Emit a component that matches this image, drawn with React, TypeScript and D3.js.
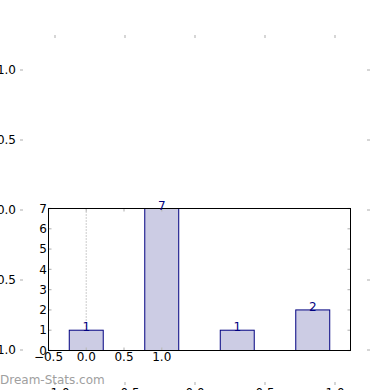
import { useEffect, useRef } from "react";
import * as d3 from "d3";

const categories = [0, 1, 2, 3];
const counts = [1, 7, 1, 2];
const xTickValues = [-0.5, 0, 0.5, 1.0];
const yTickValues = [0, 1, 2, 3, 4, 5, 6, 7];
const bgTickValues = [-1.0, -0.5, 0.0, 0.5, 1.0];

const W = 390;
const H = 390;
const FONT = "DejaVu Sans, sans-serif";
const TICK_GRAY = "#bbbbbb";

export default function App() {
  const ref = useRef<SVGSVGElement | null>(null);

  useEffect(() => {
    if (!ref.current) return;
    const svg = d3.select(ref.current);
    svg.selectAll("*").remove();

    svg.append("rect").attr("width", W).attr("height", H).attr("fill", "white");

    // background (empty) axes, spines hidden
    const bx = d3.scaleLinear().domain([-1.25, 1.25]).range([20, 370]);
    const by = d3.scaleLinear().domain([-1.25, 1.25]).range([385, 35]);
    const bg = svg.append("g");
    const fmt = (v: number) => d3.format(".1f")(v).replace("-", "\u2212");

    bgTickValues.forEach((v) => {
      // top and bottom ticks
      bg.append("line").attr("x1", bx(v)).attr("x2", bx(v)).attr("y1", 35).attr("y2", 38)
        .attr("stroke", TICK_GRAY).attr("stroke-width", 1.2);
      bg.append("line").attr("x1", bx(v)).attr("x2", bx(v)).attr("y1", 382).attr("y2", 385)
        .attr("stroke", TICK_GRAY).attr("stroke-width", 1.2);
      // left and right ticks
      bg.append("line").attr("x1", 20).attr("x2", 23).attr("y1", by(v)).attr("y2", by(v))
        .attr("stroke", TICK_GRAY).attr("stroke-width", 1.2);
      bg.append("line").attr("x1", 367).attr("x2", 370).attr("y1", by(v)).attr("y2", by(v))
        .attr("stroke", TICK_GRAY).attr("stroke-width", 1.2);
      bg.append("text").attr("x", 16).attr("y", by(v)).attr("dy", "0.35em")
        .attr("text-anchor", "end").attr("font-family", FONT).attr("font-size", 12)
        .text(fmt(v));
      bg.append("text").attr("x", bx(v)).attr("y", 397)
        .attr("text-anchor", "middle").attr("font-family", FONT).attr("font-size", 12)
        .text(fmt(v));
    });

    // foreground bar axes
    const left = 48.5, right = 350.5, top = 208.5, bottom = 350.5;
    const x = d3.scaleLinear().domain([-0.5, 3.5]).range([left, right]);
    const y = d3.scaleLinear().domain([0, 7]).range([bottom, top]);
    const barW = x(0.45) - x(0);

    const fg = svg.append("g");
    fg.append("rect").attr("x", left).attr("y", top)
      .attr("width", right - left).attr("height", bottom - top).attr("fill", "white");

    // dotted line at x = 0
    fg.append("line").attr("x1", x(0)).attr("x2", x(0)).attr("y1", top).attr("y2", bottom)
      .attr("stroke", "#aaaaaa").attr("stroke-dasharray", "1,2").attr("stroke-width", 1.2);

    fg.selectAll("rect.bar")
      .data(categories)
      .join("rect")
      .attr("class", "bar")
      .attr("x", (d) => x(d) - barW / 2)
      .attr("y", (_, i) => y(counts[i]))
      .attr("width", barW)
      .attr("height", (_, i) => bottom - y(counts[i]))
      .attr("fill", "#ccccE4")
      .attr("stroke", "#000080")
      .attr("stroke-width", 1);

    // ticks (inward, gray)
    xTickValues.forEach((v) => {
      fg.append("line").attr("x1", x(v)).attr("x2", x(v)).attr("y1", bottom).attr("y2", bottom - 3)
        .attr("stroke", TICK_GRAY).attr("stroke-width", 1.2);
      fg.append("line").attr("x1", x(v)).attr("x2", x(v)).attr("y1", top).attr("y2", top + 3)
        .attr("stroke", TICK_GRAY).attr("stroke-width", 1.2);
      fg.append("text").attr("x", x(v)).attr("y", 361)
        .attr("text-anchor", "middle").attr("font-family", FONT).attr("font-size", 12)
        .text(fmt(v));
    });
    yTickValues.forEach((v) => {
      fg.append("line").attr("x1", left).attr("x2", left + 3).attr("y1", y(v)).attr("y2", y(v))
        .attr("stroke", TICK_GRAY).attr("stroke-width", 1.2);
      fg.append("line").attr("x1", right - 3).attr("x2", right).attr("y1", y(v)).attr("y2", y(v))
        .attr("stroke", TICK_GRAY).attr("stroke-width", 1.2);
      fg.append("text").attr("x", left - 1.5).attr("y", y(v)).attr("dy", "0.35em")
        .attr("text-anchor", "end").attr("font-family", FONT).attr("font-size", 12)
        .text(String(v));
    });

    fg.append("rect").attr("x", left).attr("y", top)
      .attr("width", right - left).attr("height", bottom - top)
      .attr("fill", "none").attr("stroke", "black").attr("stroke-width", 1);

    // bar value labels
    fg.selectAll("text.val")
      .data(categories)
      .join("text")
      .attr("class", "val")
      .attr("x", (d) => x(d))
      .attr("y", (_, i) => y(counts[i]) + 1)
      .attr("text-anchor", "middle")
      .attr("font-family", FONT)
      .attr("font-size", 12)
      .attr("fill", "#000080")
      .text((_, i) => String(counts[i]));

    // watermark
    svg.append("text").attr("x", 0).attr("y", 384)
      .attr("font-family", FONT).attr("font-size", 12)
      .attr("fill", "#a0a0a0")
      .text("Dream-Stats.com");
  }, []);

  return (
    <div style={{ position: "absolute", left: 0, top: 0 }}>
      <svg ref={ref} width={W} height={H} style={{ display: "block" }} />
    </div>
  );
}
